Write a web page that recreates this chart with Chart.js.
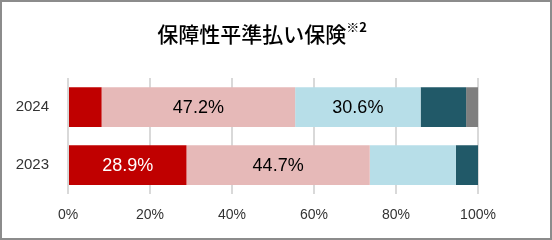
<!DOCTYPE html>
<html>
<head>
<meta charset="utf-8">
<script src="https://cdn.jsdelivr.net/npm/chart.js@4/dist/chart.umd.min.js"></script>
<style>
  html, body { margin: 0; padding: 0; background: #fff; }
  #wrap {
    width: 552px; height: 240px; box-sizing: border-box;
    border: 2px solid #8c8c8c; background: #fff;
  }
  canvas { display: block; }
</style>
</head>
<body>
<div id="wrap"><canvas id="chart" width="548" height="236"></canvas></div>
<script>
// years (top to bottom)
const years = ['2024', '2023'];

// stacked shares, %
const seg1 = [8.2, 28.9];
const seg2 = [47.2, 44.7];
const seg3 = [30.6, 21.0];
const seg4 = [11.1, 5.4];
const seg5 = [2.9, 0];

const segColors = ['#c00000', '#e6b9b8', '#b7dee8', '#215968', '#7f7f7f'];
const labelColors = ['#ffffff', '#000000', '#000000', '#ffffff', '#ffffff'];

const titleMain = '保障性平準払い保険';
const titleSup = '※2';

// labels only on the wide segments
const minLabel = 25;

const titlePlugin = {
  id: 'supTitle',
  afterDraw(chart) {
    const ctx = chart.ctx;
    ctx.save();
    ctx.fillStyle = '#000';
    ctx.textBaseline = 'middle';
    ctx.font = '500 21px "Noto Sans CJK JP"';
    const w1 = ctx.measureText(titleMain).width;
    ctx.font = 'bold 13px "Noto Sans CJK JP"';
    const w2 = ctx.measureText(titleSup).width;
    const x0 = 260 - (w1 + w2) / 2;
    ctx.font = '500 21px "Noto Sans CJK JP"';
    ctx.textAlign = 'left';
    ctx.fillText(titleMain, x0, 32);
    ctx.font = 'bold 13px "Noto Sans CJK JP"';
    ctx.fillText(titleSup, x0 + w1, 25);
    ctx.restore();
  }
};

const valueLabels = {
  id: 'valueLabels',
  afterDatasetsDraw(chart) {
    const ctx = chart.ctx;
    ctx.save();
    ctx.font = '18px "Liberation Sans", Arial, sans-serif';
    ctx.textAlign = 'center';
    ctx.textBaseline = 'middle';
    chart.data.datasets.forEach((ds, i) => {
      const meta = chart.getDatasetMeta(i);
      meta.data.forEach((bar, j) => {
        const v = ds.data[j];
        if (v < minLabel) return;
        const cx = (bar.x + bar.base) / 2;
        ctx.fillStyle = labelColors[i];
        ctx.fillText(v.toFixed(1) + '%', cx, bar.y + 1);
      });
    });
    ctx.restore();
  }
};

const ctx = document.getElementById('chart').getContext('2d');

new Chart(ctx, {
  type: 'bar',
  data: {
    labels: years,
    datasets: [seg1, seg2, seg3, seg4, seg5].map((d, i) => ({
      data: d,
      backgroundColor: segColors[i],
      borderWidth: 0,
      barPercentage: 0.684,
      categoryPercentage: 1.0
    }))
  },
  options: {
    indexAxis: 'y',
    responsive: false,
    animation: false,
    layout: { padding: { top: 76, right: 72, bottom: 1, left: 0 } },
    plugins: {
      legend: { display: false },
      tooltip: { enabled: false }
    },
    scales: {
      x: {
        stacked: true,
        min: 0,
        max: 100,
        ticks: {
          stepSize: 20,
          padding: 13,
          color: '#333',
          font: { family: '"Liberation Sans", Arial, sans-serif', size: 14 },
          callback: v => v + '%'
        },
        grid: { color: '#d9d9d9', lineWidth: 2, drawTicks: false },
        border: { display: false }
      },
      y: {
        stacked: true,
        afterFit: s => { s.width = 66; },
        ticks: {
          padding: 11,
          color: '#333',
          font: { family: '"Liberation Sans", Arial, sans-serif', size: 15 }
        },
        grid: { display: false },
        border: { display: false }
      }
    }
  },
  plugins: [titlePlugin, valueLabels]
});
</script>
</body>
</html>
